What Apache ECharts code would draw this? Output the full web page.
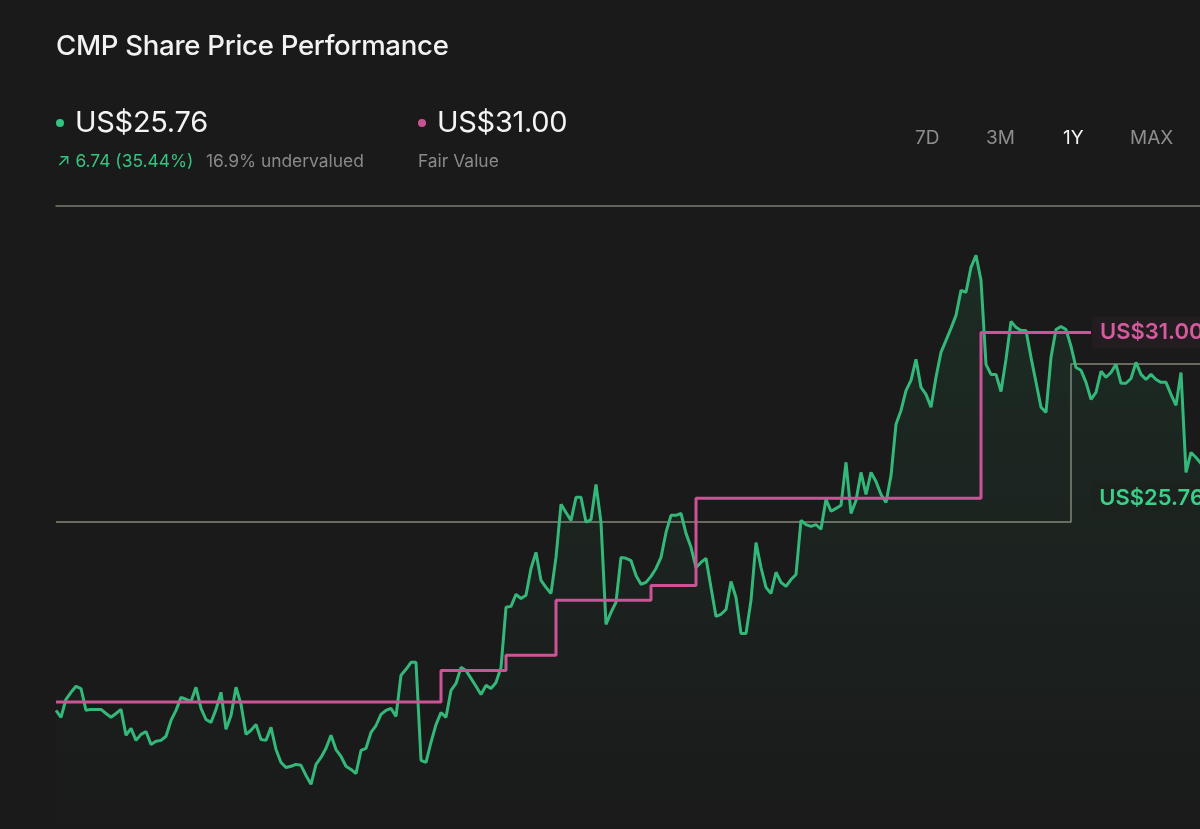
<!DOCTYPE html>
<html>
<head>
<meta charset="utf-8">
<script src="https://cdn.jsdelivr.net/npm/echarts@6/dist/echarts.min.js"></script>
<style>
  html, body { margin: 0; padding: 0; background: #1a1a1a; }
  body { width: 1200px; height: 829px; position: relative; overflow: hidden; font-family: Inter, 'Noto Sans', sans-serif; }
  /* plot runs a little past the right and bottom edges, as in the source screenshot */
  #chart { position: absolute; left: 0; top: 0; width: 1260px; height: 860px; }
  .t { position: absolute; white-space: nowrap; }
  .title { left: 56px; top: 28px; font-size: 27.6px; font-weight: 500; color: #f2f2f2; letter-spacing: -0.3px; }
  .big { top: 104px; font-size: 29px; color: #f4f4f4; letter-spacing: -0.3px; }
  .dot { position: absolute; width: 8px; height: 8px; border-radius: 50%; }
  .small { top: 150px; font-size: 17.4px; }
  .range { top: 126px; font-size: 19px; color: #8e8e8e; }
</style>
</head>
<body>
<div id="chart"></div>
<div class="t title">CMP Share Price Performance</div>
<div class="dot" style="left:56px; top:119px; background:#34c47f;"></div>
<div class="t big" style="left:75px;">US$25.76</div>
<div class="t small" style="left:57px; color:#34c47f;">&#8599; 6.74 (35.44%)</div>
<div class="t small" style="left:206px; color:#8a8a8a;">16.9% undervalued</div>
<div class="dot" style="left:418px; top:119px; background:#c95392;"></div>
<div class="t big" style="left:437px;">US$31.00</div>
<div class="t small" style="left:418px; color:#8a8a8a;">Fair Value</div>
<div class="t range" style="left:915px;">7D</div>
<div class="t range" style="left:986px;">3M</div>
<div class="t range" style="left:1063px; color:#f4f4f4;">1Y</div>
<div class="t range" style="left:1130px;">MAX</div>
<script>
  // daily close, US$ (1Y)
  const prices = [
    19.04, 18.82, 19.39, 19.61, 19.80, 19.73, 19.04, 19.07, 19.07, 19.07,
    18.94, 18.82, 18.94, 19.07, 18.25, 18.47, 18.09, 18.28, 18.37, 17.96,
    18.06, 18.09, 18.22, 18.72, 19.04, 19.45, 19.39, 19.32, 19.77, 19.10,
    18.75, 18.66, 19.07, 19.61, 18.44, 18.88, 19.77, 19.23, 18.28, 18.41,
    18.59, 18.12, 18.09, 18.50, 17.80, 17.39, 17.23, 17.27, 17.33, 17.30,
    16.98, 16.70, 17.33, 17.55, 17.84, 18.25, 17.80, 17.58, 17.27, 17.17,
    17.04, 17.77, 17.84, 18.34, 18.56, 18.91, 19.04, 19.10, 18.85, 20.15,
    20.34, 20.56, 20.56, 17.46, 17.39, 18.03, 18.59, 18.97, 18.82, 19.67,
    19.89, 20.40, 20.30, 20.05, 19.80, 19.54, 19.83, 19.73, 19.92, 20.40,
    22.30, 22.33, 22.71, 22.58, 22.68, 23.53, 24.04, 23.15, 22.93, 22.74,
    23.88, 25.56, 25.30, 25.05, 25.78, 25.78, 24.99, 25.08, 26.19, 24.99,
    21.76, 22.14, 22.46, 23.88, 23.85, 23.78, 23.31, 23.03, 23.09, 23.28,
    23.53, 23.88, 24.67, 25.21, 25.21, 25.27, 24.64, 24.20, 23.56, 23.72,
    23.85, 22.93, 22.01, 22.08, 22.23, 23.12, 22.61, 21.47, 21.47, 22.52,
    24.35, 23.56, 22.93, 22.74, 23.41, 23.09, 22.96, 23.18, 23.34, 25.05,
    24.92, 24.86, 24.92, 24.77, 25.72, 25.34, 25.43, 25.53, 26.89, 25.27,
    25.68, 26.57, 25.87, 26.57, 26.28, 25.87, 25.62, 26.47, 28.09, 28.53,
    29.16, 29.48, 30.15, 29.26, 29.04, 28.63, 29.58, 30.37, 30.75, 31.13,
    31.54, 32.33, 32.27, 33.06, 33.44, 32.65, 29.99, 29.67, 29.67, 29.13,
    30.15, 31.35, 31.16, 31.06, 31.06, 30.21, 29.42, 28.63, 28.47, 30.21,
    31.09, 31.19, 31.09, 30.56, 29.89, 29.80, 29.42, 28.88, 29.10, 29.77,
    29.58, 29.73, 29.99, 29.39, 29.39, 29.54, 30.05, 29.67, 29.51, 29.67,
    29.51, 29.42, 29.42, 29.04, 28.69, 29.73, 26.57, 27.20, 27.04, 26.85,
    26.63, 26.32, 26.09, 25.94, 25.76
  ];

  // fair value estimate: day index where each level starts, and the level
  const fairFrom = [0, 77, 90, 100, 119, 128, 185];
  const fairValues = [19.30, 20.30, 20.78, 22.52, 22.99, 25.75, 31.00];
  const fairLastDay = 207;

  // grey reference band
  const bandFrom = [0, 203];
  const bandValues = [25.00, 30.00];

  const currentLabel = 'US$25.76';
  const fairLabel = 'US$31.00';

  const days = prices.map((_, i) => String(i));

  function stepsToSeries(from, values, lastDay) {
    const out = [];
    for (let d = 0; d <= lastDay; d++) {
      let v = values[0];
      for (let k = 0; k < from.length; k++) {
        if (d >= from[k]) v = values[k];
      }
      out.push(v);
    }
    return out;
  }

  const fairSeries = stepsToSeries(fairFrom, fairValues, fairLastDay);
  const bandSeries = stepsToSeries(bandFrom, bandValues, prices.length - 1);

  const chart = echarts.init(document.getElementById('chart'));
  chart.setOption({
    backgroundColor: '#1a1a1a',
    animation: false,
    grid: { left: 56, top: 206, width: (prices.length - 1) * 5, height: 632 },
    xAxis: {
      type: 'category',
      data: days,
      boundaryGap: false,
      position: 'top',
      axisLine: { show: true, lineStyle: { color: '#7c7c6c', width: 1.5 } },
      axisTick: { show: false },
      axisLabel: { show: false },
      splitLine: { show: false }
    },
    yAxis: { type: 'value', min: 15, max: 35, show: false },
    series: [
      {
        type: 'line',
        data: bandSeries,
        step: 'end',
        symbol: 'none',
        lineStyle: { color: '#85857a', width: 1.5 },
        z: 1
      },
      {
        type: 'line',
        data: prices,
        symbol: 'none',
        lineStyle: { color: '#33b87a', width: 3 },
        areaStyle: {
          color: new echarts.graphic.LinearGradient(0, 0, 0, 1, [
            { offset: 0, color: 'rgba(52, 184, 122, 0.16)' },
            { offset: 1, color: 'rgba(52, 184, 122, 0.0)' }
          ])
        },
        endLabel: {
          show: true,
          formatter: currentLabel,
          align: 'right',
          offset: [-22, 0],
          color: '#3ccf8a',
          fontSize: 22,
          fontWeight: 600,
          fontFamily: 'Inter',
          backgroundColor: '#1c231f',
          padding: [5, 8]
        },
        z: 2
      },
      {
        type: 'line',
        data: fairSeries,
        step: 'end',
        symbol: 'none',
        lineStyle: { color: '#cc5496', width: 3 },
        endLabel: {
          show: true,
          formatter: fairLabel,
          distance: 1,
          color: '#d45c9e',
          fontSize: 22,
          fontWeight: 600,
          fontFamily: 'Inter',
          backgroundColor: '#231c21',
          padding: [5, 8]
        },
        z: 3
      }
    ]
  });
</script>
</body>
</html>
